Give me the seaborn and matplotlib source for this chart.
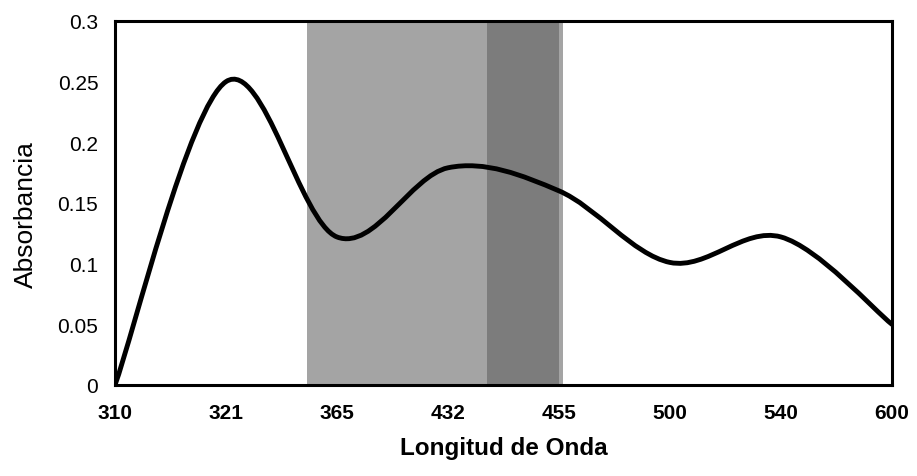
import numpy as np
import matplotlib
matplotlib.use("Agg")
import matplotlib.pyplot as plt
from matplotlib.path import Path
from matplotlib.patches import PathPatch
import seaborn as sns

# wavelengths shown as categories on the x axis (Excel line chart)
wavelengths = ["310", "321", "365", "432", "455", "500", "540", "600"]
absorbance = [0.0, 0.25, 0.122, 0.179, 0.16, 0.101, 0.122, 0.05]
yticks = [0, 0.05, 0.1, 0.15, 0.2, 0.25, 0.3]
ytick_labels = ["0", "0.05", "0.1", "0.15", "0.2", "0.25", "0.3"]

# shaded (visible) region, in category units
band_light = (1.73, 4.04)
band_dark = (3.35, 4.0)

sns.set_theme(style="white")
plt.rcParams["font.family"] = ["Liberation Sans", "DejaVu Sans"]

fig = plt.figure(figsize=(9.17, 4.77), dpi=100)
ax = fig.add_axes([0.1254, 0.1908, 0.8473, 0.7631])

ax.axvspan(*band_light, color="#a4a4a4", lw=0, zorder=1)
ax.axvspan(*band_dark, color="#7c7c7c", lw=0, zorder=1)

# smoothed line like Excel: cubic bezier between points
pts = np.column_stack([np.arange(len(absorbance)), absorbance])
n = len(pts)
verts = [pts[0]]
for i in range(n - 1):
    p_prev = pts[max(i - 1, 0)]
    p_next2 = pts[min(i + 2, n - 1)]
    verts.append(pts[i] + (pts[i + 1] - p_prev) / 6)
    verts.append(pts[i + 1] - (p_next2 - pts[i]) / 6)
    verts.append(pts[i + 1])
codes = [Path.MOVETO] + [Path.CURVE4] * (3 * (n - 1))
ax.add_patch(PathPatch(Path(verts, codes), fc="none", ec="black", lw=3.5,
                       capstyle="round", joinstyle="round", zorder=3))

ax.set_xlim(0, n - 1)
ax.set_ylim(0, 0.3)
ax.set_xticks(range(n))
ax.set_xticklabels(wavelengths)
ax.set_yticks(yticks)
ax.set_yticklabels(ytick_labels)

for s in ax.spines.values():
    s.set_visible(True)
    s.set_color("black")
    s.set_linewidth(2.2)
    s.set_zorder(4)

ax.tick_params(axis="both", direction="inout", length=6, width=1.5,
               colors="black")
ax.tick_params(axis="x", pad=10, labelsize=15)
ax.tick_params(axis="y", pad=9, labelsize=15)
for lab in ax.get_xticklabels():
    lab.set_fontweight("bold")

ax.set_xlabel("Longitud de Onda", fontsize=17.5, fontweight="bold", color="black")
ax.set_ylabel("Absorbancia", fontsize=19, color="black")
ax.xaxis.set_label_coords(0.5, -0.14)
ax.yaxis.set_label_coords(-0.099, 0.47)

plt.savefig("out.png", dpi=100)
plt.close()
